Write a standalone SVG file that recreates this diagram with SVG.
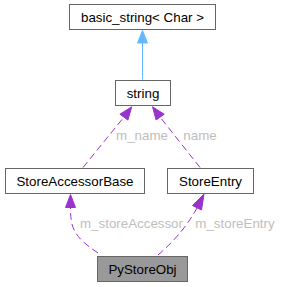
<svg xmlns="http://www.w3.org/2000/svg" width="281" height="287" viewBox="0 0 281 287">
<style>
.box{fill:#ffffff;stroke:#666666;stroke-width:1}
.cur{fill:#999999;stroke:#666666;stroke-width:1}
.t{font-family:"Liberation Sans",Arial,sans-serif;font-size:13.33px;fill:#000000;text-anchor:middle}
.lbl{font-family:"Liberation Sans",Arial,sans-serif;font-size:13.33px;fill:#bebebe;text-anchor:middle}
.e{fill:none;stroke:#9a32cd;stroke-width:1;stroke-dasharray:7,4}
.ah{fill:#9a32cd;stroke:#9a32cd}
.inh{fill:none;stroke:#63b8ff;stroke-width:1}
.ahb{fill:#63b8ff;stroke:#63b8ff}
</style>
<rect width="281" height="287" fill="#ffffff"/>
<g id="edges">
<path class="inh" d="M142.5,79.5 L142.5,43"/>
<polygon class="ahb" points="137.5,43 142.5,30.5 147.5,43"/>
<path class="e" d="M83,167.5 L124,117"/>
<polygon class="ah" points="119.9,114.2 131.8,106.8 127.9,120"/>
<text class="lbl" x="142" y="139.5">m_name</text>
<path class="e" d="M200,167.5 L160,117"/>
<polygon class="ah" points="156.1,120 152.5,106.8 164.2,114.2"/>
<text class="lbl" x="200" y="139.5">name</text>
<path class="e" d="M98,253 C86,245 74,236 71.5,222 C70.5,216 70.5,212 70.5,207"/>
<polygon class="ah" points="65.5,207.5 70.5,194.5 75.5,207.5"/>
<text class="lbl" x="131.5" y="227.5">m_storeAccessor</text>
<path class="e" d="M158,255 C172,243 186,228 197,208"/>
<polygon class="ah" points="192.5,205.5 204,194 201.5,210"/>
<text class="lbl" x="235" y="227.5">m_storeEntry</text>
</g>
<g id="basic_string">
<rect class="box" x="69.5" y="4.5" width="146" height="25"/>
<text class="t" x="142.5" y="21.5">basic_string&lt; Char &gt;</text>
</g>
<g id="string">
<rect class="box" x="115.5" y="80.5" width="55" height="25"/>
<text class="t" x="143" y="97.5">string</text>
</g>
<g id="StoreAccessorBase">
<rect class="box" x="5.5" y="168.5" width="139" height="25"/>
<text class="t" x="75" y="185.5">StoreAccessorBase</text>
</g>
<g id="StoreEntry">
<rect class="box" x="167.5" y="168.5" width="86" height="25"/>
<text class="t" x="210.5" y="185.5">StoreEntry</text>
</g>
<g id="PyStoreObj">
<rect class="cur" x="97.5" y="256.5" width="90" height="25"/>
<text class="t" x="142.5" y="273.5">PyStoreObj</text>
</g>
</svg>
